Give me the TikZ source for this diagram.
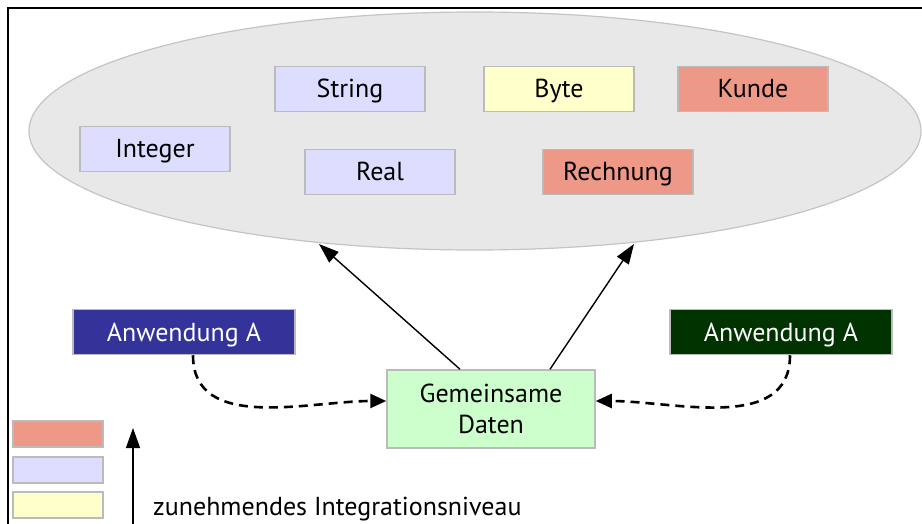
\documentclass[tikz,border=0pt]{standalone}
\usepackage{fontspec}
\setmainfont{PT Sans}
\usetikzlibrary{shapes.geometric,arrows.meta}
\definecolor{ellfill}{HTML}{E8E8E8}
\definecolor{elldraw}{HTML}{C4C4C4}
\definecolor{boxgray}{HTML}{BBBBBB}
\definecolor{lav}{HTML}{DDDDFF}
\definecolor{ylw}{HTML}{FFFFCC}
\definecolor{salmon}{HTML}{EE9988}
\definecolor{appblue}{HTML}{333399}
\definecolor{appgreen}{HTML}{003300}
\definecolor{datagreen}{HTML}{CCFFCC}
\begin{document}
\begin{tikzpicture}[x=1pt,y=-1pt,
  txt/.style={font=\fontsize{26}{31}\selectfont},
  basebox/.style={draw=boxgray, line width=1.5pt, minimum width=150pt, minimum height=45pt, inner sep=0pt, txt},
  box/.style={basebox, text height=18pt, text depth=0pt},
  appbox/.style={box, minimum width=222pt, text=white},
  legbox/.style={draw=boxgray, line width=1.5pt, minimum width=90pt, minimum height=26pt, inner sep=0pt},
  solidarrow/.style={line width=1.4pt, -{Triangle[length=20pt,width=14pt]}},
  dasharrow/.style={line width=2.6pt, dash pattern=on 9pt off 6pt, -{Triangle[length=16pt,width=14pt]}}]
\useasboundingbox (0,0) rectangle (922,524);
% frame
\draw[line width=2.2pt] (8,524) -- (8,8) -- (922,8);
% ellipse
\node[ellipse, fill=ellfill, draw=elldraw, line width=1.2pt, minimum width=892pt, minimum height=238pt, inner sep=0pt] (ell) at (475,131) {};
% type boxes
\node[box, fill=lav] (string) at (350,89) {String};
\node[box, fill=ylw] (byte) at (559,89) {Byte};
\node[box, fill=salmon] (kunde) at (753,89) {Kunde};
\node[box, fill=lav] (integer) at (155,149) {Integer};
\node[box, fill=lav] (real) at (380,172) {Real};
\node[box, fill=salmon] (rechnung) at (618,172) {Rechnung};
% applications
\node[appbox, fill=appblue] (appa) at (184,332) {Anwendung A};
\node[appbox, fill=appgreen] (appb) at (781,332) {Anwendung A};
% shared data
\node[basebox, fill=datagreen, minimum width=208pt, minimum height=78pt, align=center] (data) at (491,409) {Gemeinsame\\Daten};
% arrows to ellipse
\coordinate (t1) at (319,244);
\coordinate (t2) at (634,244);
\draw[solidarrow] ([xshift=-31pt]data.north) -- (t1);
\draw[solidarrow] ([xshift=59pt]data.north) -- (t2);
% dashed arrows
\draw[dasharrow] ([xshift=9pt]appa.south) to[out=-90,in=180] ([yshift=8pt]data.west);
\draw[dasharrow] ([xshift=9pt]appb.south) to[out=-90,in=0] ([yshift=8pt]data.east);
% legend
\node[legbox, fill=salmon] (l1) at (58,434) {};
\node[legbox, fill=lav] (l2) at (58,470) {};
\node[legbox, fill=ylw] (l3) at (58,505) {};
\coordinate (la0) at (133,524);
\coordinate (la1) at (133,428);
\draw[solidarrow] (la0) -- (la1);
\node[txt, anchor=west, inner sep=0pt] (legtxt) at (153,509) {zunehmendes Integrationsniveau};
\end{tikzpicture}
\end{document}
